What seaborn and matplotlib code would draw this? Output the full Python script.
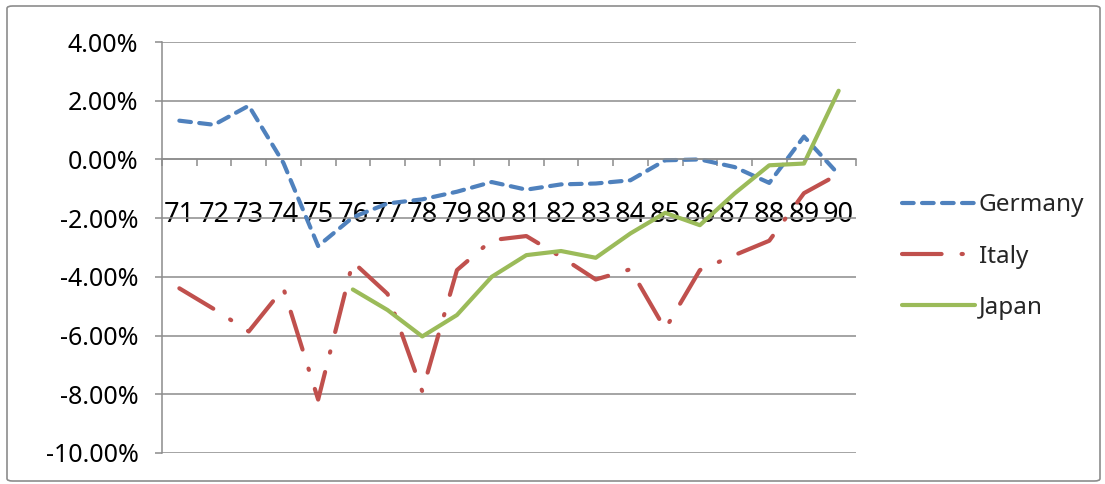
import matplotlib
matplotlib.use("Agg")
import matplotlib.pyplot as plt
import seaborn as sns
import numpy as np
from matplotlib.patches import FancyBboxPatch
from matplotlib.ticker import FixedLocator, FuncFormatter

years = [71, 72, 73, 74, 75, 76, 77, 78, 79, 80, 81, 82, 83, 84, 85, 86, 87, 88, 89, 90]
year_labels = [str(y) for y in years]
germany = [1.32, 1.18, 1.83, -0.12, -2.95, -1.97, -1.5, -1.36, -1.1, -0.77,
           -1.03, -0.85, -0.82, -0.71, -0.03, 0.0, -0.26, -0.8, 0.78, -0.51]
italy = [-4.39, -5.1, -5.86, -4.39, -8.18, -3.49, -4.58, -7.9, -3.77, -2.75,
         -2.61, -3.32, -4.09, -3.74, -5.78, -3.77, -3.26, -2.77, -1.15, -0.5]
japan = [np.nan, np.nan, np.nan, np.nan, np.nan, -4.43, -5.13, -6.03, -5.3, -4.0,
         -3.26, -3.12, -3.35, -2.52, -1.82, -2.24, -1.16, -0.2, -0.14, 2.34]
y_ticks = [4, 2, 0, -2, -4, -6, -8, -10]

sns.set_theme(style="white")
plt.rcParams['font.family'] = ['Noto Sans', 'DejaVu Sans']

fig = plt.figure(figsize=(11.05, 4.84), dpi=100)
ax = fig.add_axes([162/1105, 1-453/484, 694/1105, 411/484])

grid_c = "#8c8c8c"
ax.set_ylim(-10, 4)
ax.set_xlim(years[0]-0.5, years[-1]+0.5)
ax.yaxis.set_major_locator(FixedLocator(y_ticks))
ax.yaxis.set_major_formatter(FuncFormatter(lambda v, p: f"{v:.2f}%"))
ax.grid(axis='y', color=grid_c, linewidth=1.1)
ax.set_axisbelow(True)

sns.lineplot(x=years, y=germany, ax=ax, color="#4F81BD", linewidth=3.0,
             linestyle=(0, (2.8, 2.0)), dash_capstyle='round', label="Germany")
sns.lineplot(x=years, y=italy, ax=ax, color="#C0504D", linewidth=3.0,
             linestyle=(0, (9.5, 4.8, 0.3, 4.8)), dash_capstyle='round', label="Italy")
sns.lineplot(x=years, y=japan, ax=ax, color="#9BBB59", linewidth=3.0,
             label="Japan")

for s in ['top', 'right']:
    ax.spines[s].set_visible(False)
ax.spines['left'].set_color(grid_c)
ax.spines['left'].set_linewidth(1.1)
ax.spines['bottom'].set_position(('data', 0))
ax.spines['bottom'].set_color(grid_c)
ax.spines['bottom'].set_linewidth(1.1)

ax.set_xticks(years)
ax.set_xticklabels(year_labels)
ax.set_xticks([y + 0.5 for y in [years[0]-1] + years], minor=True)
ax.tick_params(axis='x', which='major', length=0, pad=30, labelsize=19.5, labelcolor='black')
ax.tick_params(axis='x', which='minor', length=5, width=1.1, color=grid_c, direction='out', bottom=True)
ax.tick_params(axis='y', which='major', length=5, width=1.1, color=grid_c, left=True,
               pad=12, labelsize=18, labelcolor='black')
ax.set_xlabel("")
ax.set_ylabel("")

leg = ax.legend(loc='center left', bbox_to_anchor=(1.035, 0.478), frameon=False,
                fontsize=17.5, handlelength=3.0, handletextpad=0.15, labelspacing=1.12)

border = FancyBboxPatch((7/1105, 3/484), 1093/1105, 475/484, transform=fig.transFigure,
                        boxstyle="round,pad=0,rounding_size=0.005", facecolor='none',
                        edgecolor="#8c8c8c", linewidth=1.2)
fig.patches.append(border)

fig.savefig("out.png", dpi=100)
